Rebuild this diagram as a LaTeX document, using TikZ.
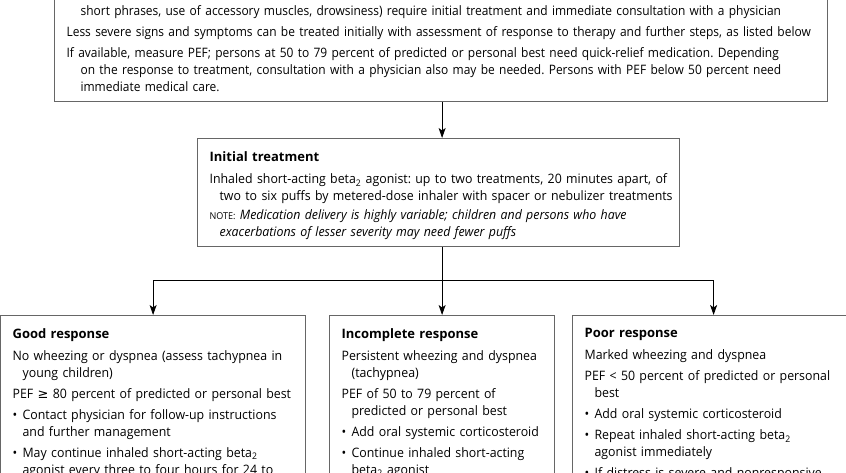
\documentclass[tikz,border=0pt]{standalone}
\usepackage{fontspec}
\setmainfont{Open Sans}[FakeStretch=0.95, BoldFeatures={FakeStretch=1.0}]
\newfontfamily\topfont{Open Sans}[FakeStretch=0.92]
\newfontfamily\symfont{DejaVu Sans}
\usetikzlibrary{arrows.meta,calc}
\newcommand{\np}{\par\hangindent=10pt\hangafter=1 }
\newcommand{\hd}[1]{\textbf{#1}\par\vspace{1pt}}
\newcommand{\bul}{\makebox[10pt][l]{•}}
\newcommand{\betatwo}{beta\textsubscript{2}}
\newcommand{\boxsetup}{\fontsize{13}{17}\selectfont\frenchspacing\setlength{\parskip}{4pt}\setlength{\parindent}{0pt}}
\tikzset{
  box/.style={draw=black!60, line width=1.2pt, align=left, inner xsep=12pt,
    font=\boxsetup},
  arr/.style={draw=black, line width=0.9pt, -{Stealth[length=10pt,width=7pt,inset=2.5pt]}},
  ln/.style={draw=black, line width=0.9pt}
}
\begin{document}
\begin{tikzpicture}[x=1pt,y=-1pt]
\useasboundingbox (0,0) rectangle (846,473);
\clip (0,0) rectangle (846,473);

\node[box, anchor=south west, text width=749pt, inner ysep=10pt, font=\topfont\boxsetup] (top) at (54,102) {%
\hangindent=14pt\hangafter=0 \mbox{short phrases, use of accessory muscles, drowsiness) require initial treatment and immediate consultation with a physician}
\par\mbox{Less severe signs and symptoms can be treated initially with assessment of response to therapy and further steps, as listed below}
\par\hangindent=14pt\hangafter=1 \mbox{If available, measure PEF; persons at 50 to 79 percent of predicted or personal best need quick-relief medication. Depending}\newline
\mbox{on the response to treatment, consultation with a physician also may be needed. Persons with PEF below 50 percent need}\newline
\mbox{immediate medical care.}\par};

\node[box, anchor=north west, text width=458pt, inner ysep=7pt] (init) at (197,138) {%
\hd{\rule{0pt}{16pt}Initial treatment}
\hangindent=10pt\hangafter=1 \mbox{Inhaled short-acting \betatwo{} agonist: up to two treatments, 20 minutes apart, of}\newline
\mbox{two to six puffs by metered-dose inhaler with spacer or nebulizer treatments}
\par\vspace{-2pt}\hangindent=10pt\hangafter=1 \makebox[458pt][s]{{\fontsize{9.5}{17}\selectfont NOTE:} \textit{Medication delivery is highly variable; children and persons who have}}\newline
\mbox{\textit{exacerbations of lesser severity may need fewer puffs}}\par};

\node[box, anchor=north west, text width=281pt, inner ysep=13pt] (good) at (0,315) {%
\hd{Good response}
\hangindent=10pt\hangafter=1 \mbox{No wheezing or dyspnea (assess tachypnea in}\newline\mbox{young children)}
\np\mbox{PEF {\symfont ≥} 80 percent of predicted or personal best}
\np\mbox{\bul Contact physician for follow-up instructions}\newline\mbox{and further management}
\np\mbox{\bul May continue inhaled short-acting \betatwo}\newline\mbox{agonist every three to four hours for 24 to}\par
\vspace*{60pt}};

\node[box, anchor=north west, text width=201pt, inner ysep=13pt] (mid) at (329,315) {%
\hd{Incomplete response}
\hangindent=10pt\hangafter=1 \mbox{Persistent wheezing and dyspnea}\newline\mbox{(tachypnea)}
\np\mbox{PEF of 50 to 79 percent of}\newline\mbox{predicted or personal best}
\np\mbox{\bul Add oral systemic corticosteroid}
\np\mbox{\bul Continue inhaled short-acting}\newline\mbox{\betatwo{} agonist}\par
\vspace*{60pt}};

\node[box, anchor=north west, text width=258pt, inner ysep=13pt] (poor) at (572,315) {%
\hd{Poor response}
\hangindent=10pt\hangafter=1 \mbox{Marked wheezing and dyspnea}
\np\mbox{PEF < 50 percent of predicted or personal}\newline\mbox{best}
\np\mbox{\bul Add oral systemic corticosteroid}
\np\mbox{\bul Repeat inhaled short-acting \betatwo}\newline\mbox{agonist immediately}
\np\mbox{\bul If distress is severe and nonresponsive}\par
\vspace*{60pt}};

\draw[arr] (top.south -| mid.north) -- (init.north -| mid.north);
\coordinate (split) at ($(init.south -| mid.north)+(0,33)$);
\draw[ln] (init.south -| mid.north) -- (split);
\draw[arr] (split) -- (mid.north);
\draw[arr] (split) -| (good.north);
\draw[arr] (split) -| (poor.north);
\end{tikzpicture}
\end{document}
